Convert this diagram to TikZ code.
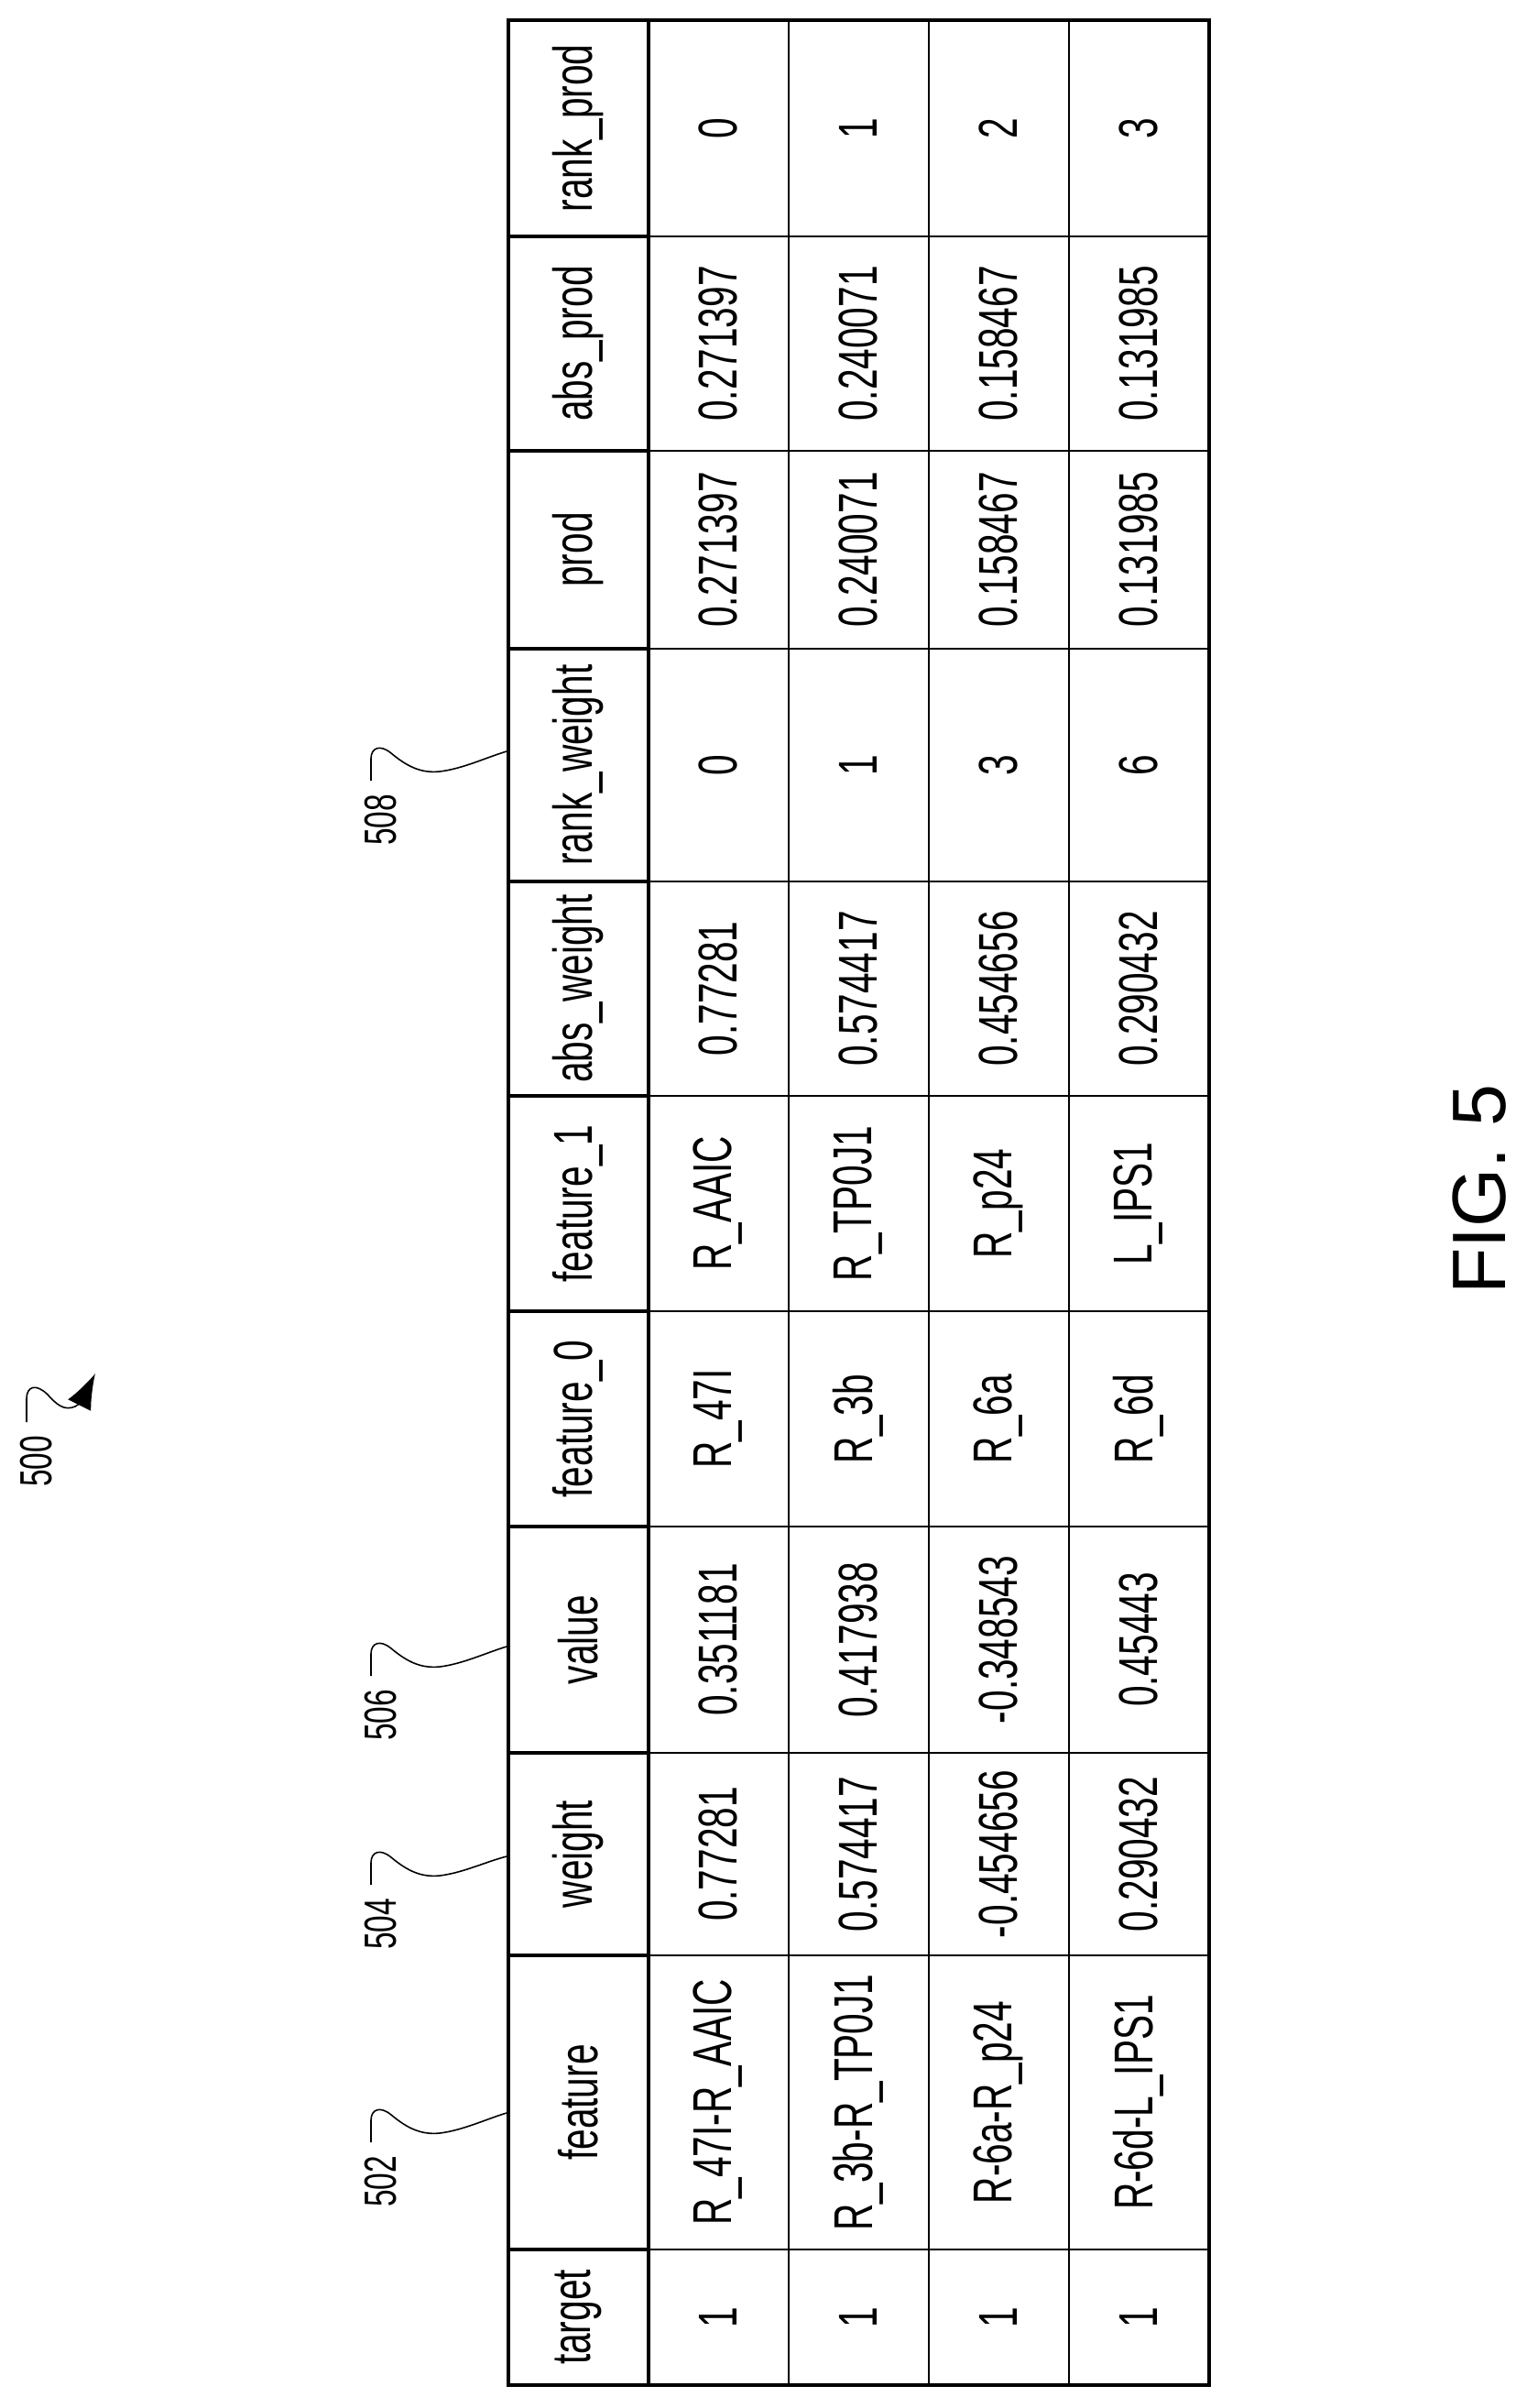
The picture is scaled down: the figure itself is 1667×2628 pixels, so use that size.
\documentclass[tikz,border=0pt]{standalone}
\usepackage{fontspec}
\setmainfont{Liberation Sans}
\usetikzlibrary{arrows.meta}

\tikzset{
  cell/.style={rotate=90,inner sep=0pt,font=\fontsize{34}{40}\selectfont},
  reflabel/.style={rotate=90,inner sep=0pt,font=\fontsize{28}{32}\selectfont},
  leader/.style={line width=0.9pt},
  grid line/.style={line width=1.1pt},
  head box/.style={line width=2pt}
}
\newcommand{\narrow}[1]{\scalebox{0.68}[1]{#1}}

\begin{document}
\begin{tikzpicture}[x=0.02cm,y=-0.02cm]
  \useasboundingbox (0,0) rectangle (1667,2628);
  % table columns (from the bottom of the page up)
  \foreach \col/\ylo/\yhi/\hd/\va/\vb/\vc/\vd in {
      target/2455/2603/target/1/1/1/1,
      feature/2134/2455/feature/R\_47I-R\_AAIC/R\_3b-R\_TP0J1/R-6a-R\_p24/R-6d-L\_IPS1,
      weight/1913/2134/weight/0.77281/0.574417/-0.454656/0.290432,
      value/1666/1913/value/0.351181/0.417938/-0.348543/0.45443,
      featA/1431/1666/feature\_0/R\_47I/R\_3b/R\_6a/R\_6d,
      featB/1196/1431/feature\_1/R\_AAIC/R\_TP0J1/R\_p24/L\_IPS1,
      absw/962/1196/abs\_weight/0.77281/0.574417/0.454656/0.290432,
      rankw/708/962/rank\_weight/0/1/3/6,
      prod/492/708/prod/0.271397/0.240071/0.158467/0.131985,
      absp/258/492/abs\_prod/0.271397/0.240071/0.158467/0.131985,
      rankp/22/258/rank\_prod/0/1/2/3} {
    \draw[head box] (555,\ylo) rectangle (708,\yhi);
    \draw[grid line] (708,\ylo) -- (1320,\ylo);
    \node[cell] (\col-h) at (631,{(\ylo+\yhi)/2}) {\narrow{\hd}};
    \node[cell] (\col-1) at (784,{(\ylo+\yhi)/2}) {\narrow{\va}};
    \node[cell] (\col-2) at (937,{(\ylo+\yhi)/2}) {\narrow{\vb}};
    \node[cell] (\col-3) at (1090,{(\ylo+\yhi)/2}) {\narrow{\vc}};
    \node[cell] (\col-4) at (1243,{(\ylo+\yhi)/2}) {\narrow{\vd}};
  }
  \foreach \x in {861,1014,1167}
    \draw[grid line] (\x,22) -- (\x,2603);
  \draw[head box] (555,22) rectangle (1320,2603);

  % reference numerals
  \foreach \n/\ty/\ey in {502/2381/2306,504/2100/2026,506/1872/1797,508/895/820} {
    \node[reflabel] (l\n) at (416,\ty) {\narrow{\n}};
    \coordinate (e\n) at (553,\ey);
    \draw[leader,shift={(405,\ty-43)}] (0,0) -- (0,-24)
      .. controls (0,-36) and (10,-40) .. (22,-30)
      .. controls (40,-15) and (55,-8) .. (75,-10)
      .. controls (100,-13) and (125,-25) .. (e\n);
  }
  \node[reflabel] (l500) at (40,1595) {\narrow{500}};
  \coordinate (a500) at (104,1499);
  \draw[leader,-{Latex[length=22,width=16]}] (29,1552) -- (29,1527)
    .. controls (29,1512) and (40,1510) .. (52,1522)
    .. controls (62,1533) and (70,1540) .. (82,1535)
    .. controls (92,1530) and (96,1515) .. (a500);

  \node[rotate=90,font=\fontsize{47}{52}\selectfont] (fig) at (1615,1298) {FIG. 5};
\end{tikzpicture}
\end{document}
